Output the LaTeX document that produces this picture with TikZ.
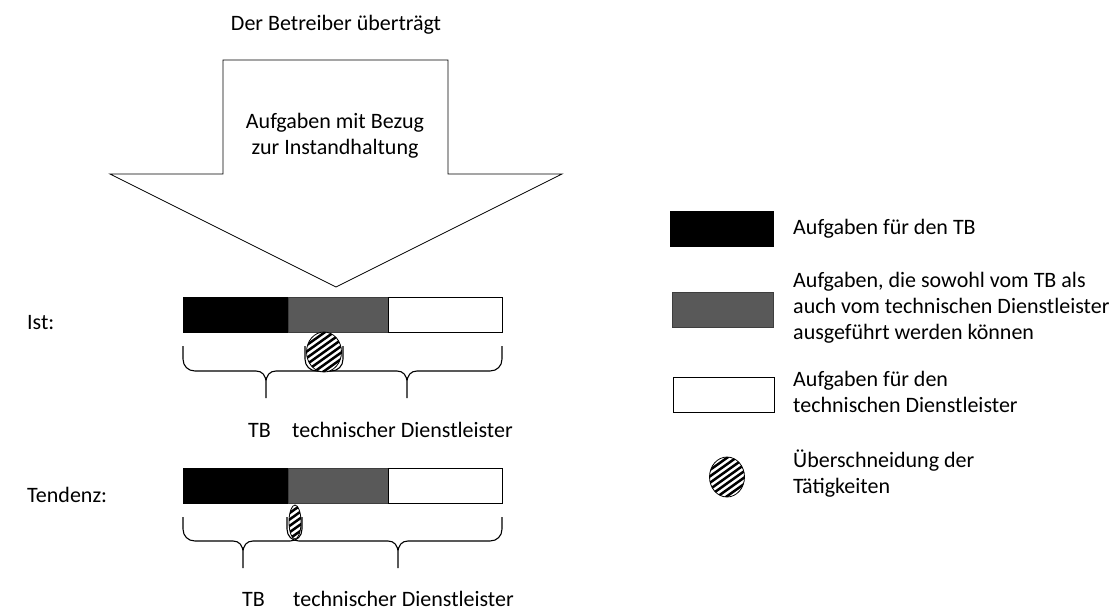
\documentclass[tikz,border=0pt]{standalone}
\usepackage{fontspec}
\setmainfont{Carlito}
\usetikzlibrary{shapes.geometric}

% horizontal curly brace opening upwards: #1 left x, #2 tip x, #3 right x,
% #4 top of the arms, #5 y of the long stroke, #6 y of the tip
\newcommand\hbracepath[6]{%
  (#1,#4) -- (#1,#5-12) .. controls (#1,#5-5) and (#1+5,#5) .. (#1+12,#5)
  -- (#2-10,#5) .. controls (#2-4,#5) and (#2,#5+4) .. (#2,#5+12) -- (#2,#6)
  (#2,#5+12) .. controls (#2,#5+4) and (#2+4,#5) .. (#2+10,#5)
  -- (#3-12,#5) .. controls (#3-5,#5) and (#3,#5-5) .. (#3,#5-12) -- (#3,#4)}

\tikzset{
  txt/.style={inner sep=0pt, font=\fontsize{22}{26}\selectfont},
  seg/.style={draw=black, line width=0.8pt, minimum height=35pt, inner sep=0pt, anchor=north west},
  blackseg/.style={seg, fill=black},
  greyseg/.style={seg, fill=grey, draw=grey!70!black},
  whiteseg/.style={seg, fill=white},
  hatch/.style={ellipse, draw=black, line width=0.8pt, fill=white, inner sep=0pt,
    path picture={\foreach \k in {-72,-63,...,72}
      \draw[line width=2.5pt, shift={(path picture bounding box.center)}]
        (\k-45,32) -- (\k+45,-32);}},
  brace/.style={draw=black, line width=1.1pt},
}
\definecolor{grey}{HTML}{595959}

\begin{document}
\begin{tikzpicture}[x=1pt,y=-1pt]
\useasboundingbox (0,0) rectangle (1118,611);
\fill[white] (0,0) rectangle (1118,611);

% heading and the big arrow
\node[txt, anchor=base] (head) at (336,30) {Der Betreiber überträgt};
\draw[line width=0.8pt] (223,174) -- (223,60) -- (448,60) -- (448,174) -- (562,174)
  -- (336,287) -- (110,174) -- cycle;
\node[txt, anchor=base] (arr1) at (335,128) {Aufgaben mit Bezug};
\node[txt, anchor=base] (arr2) at (335,154) {zur Instandhaltung};

% current state
\node[txt, anchor=base west] (ist) at (27,329) {Ist:};
\node[blackseg, minimum width=105pt] (ia) at (183,297) {};
\node[greyseg, minimum width=100pt] (ib) at (288,297) {};
\node[whiteseg, minimum width=114pt] (ic) at (388,297) {};
\draw[brace] \hbracepath{183}{266}{343}{346}{371}{398};
\draw[brace] \hbracepath{305}{407}{502}{346}{371}{398};
\node[hatch, minimum width=35pt, minimum height=40pt] (iov) at (324,352) {};
\node[txt, anchor=base west] (itb) at (248,437) {TB};
\node[txt, anchor=base west] (itd) at (292,437) {technischer Dienstleister};

% trend
\node[txt, anchor=base west] (tend) at (27,502) {Tendenz:};
\node[blackseg, minimum width=105pt] (ta) at (183,468) {};
\node[greyseg, minimum width=100pt] (tb) at (288,468) {};
\node[whiteseg, minimum width=114pt] (tc) at (388,468) {};
\draw[brace] \hbracepath{183}{243}{302}{517}{541}{568};
\draw[brace] \hbracepath{287}{398}{502}{517}{541}{568};
\node[hatch, minimum width=12pt, minimum height=34pt] (tov) at (295,522) {};
\node[txt, anchor=base west] (ttb) at (242,606) {TB};
\node[txt, anchor=base west] (ttd) at (293,606) {technischer Dienstleister};

% legend
\node[blackseg, minimum width=103pt] (l1) at (670,211) {};
\node[txt, anchor=base west] (l1t) at (793,234) {Aufgaben für den TB};
\node[greyseg, minimum width=101pt] (l2) at (672,292) {};
\node[txt, anchor=base west] (l2t1) at (793,287) {Aufgaben, die sowohl vom TB als};
\node[txt, anchor=base west] (l2t2) at (793,313) {auch vom technischen Dienstleister};
\node[txt, anchor=base west] (l2t3) at (793,339) {ausgeführt werden können};
\node[whiteseg, minimum width=101pt] (l3) at (673,377) {};
\node[txt, anchor=base west] (l3t1) at (793,386) {Aufgaben für den};
\node[txt, anchor=base west] (l3t2) at (793,412) {technischen Dienstleister};
\node[hatch, minimum width=35pt, minimum height=40pt] (l4) at (727,477) {};
\node[txt, anchor=base west] (l4t1) at (793,467) {Überschneidung der};
\node[txt, anchor=base west] (l4t2) at (793,493) {Tätigkeiten};
\end{tikzpicture}
\end{document}
